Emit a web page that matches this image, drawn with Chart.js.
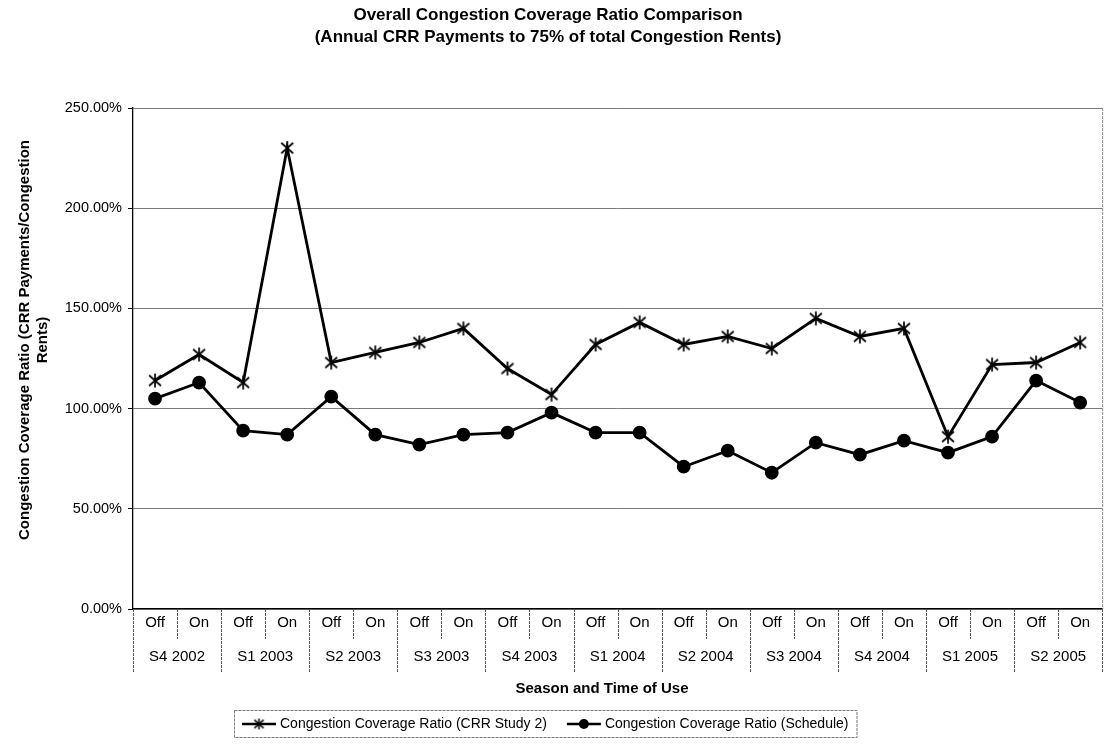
<!DOCTYPE html>
<html>
<head>
<meta charset="utf-8">
<script src="https://cdn.jsdelivr.net/npm/chart.js@4.4.1/dist/chart.umd.min.js"></script>
<style>
  html, body { margin: 0; padding: 0; background: #fff; }
  #wrap { width: 1113px; height: 747px; position: relative; }
</style>
</head>
<body>
<div id="wrap"><canvas id="chart" width="1113" height="747"></canvas></div>
<script>
// Seasons, each split into off-peak and on-peak periods
const seasons = ['S4 2002', 'S1 2003', 'S2 2003', 'S3 2003', 'S4 2003', 'S1 2004',
                 'S2 2004', 'S3 2004', 'S4 2004', 'S1 2005', 'S2 2005'];
const timeOfUse = ['Off', 'On'];
const categories = seasons.flatMap(() => timeOfUse);

// Congestion coverage ratio, percent
const crrStudy2 = [114, 127, 113, 230, 123, 128, 133, 140, 120, 107, 132,
                   143, 132, 136, 130, 145, 136, 140, 86, 122, 123, 133];
const schedule  = [105, 113, 89, 87, 106, 87, 82, 87, 88, 98, 88,
                   88, 71, 79, 68, 83, 77, 84, 78, 86, 114, 103];

const yTickMin = 0, yTickMax = 250, yTickStep = 50;

const titleLines = ['Overall Congestion Coverage Ratio Comparison',
                    '(Annual CRR Payments to 75% of total Congestion Rents)'];
const yTitleLines = ['Congestion Coverage Ratio (CRR Payments/Congestion', 'Rents)'];
const xTitle = 'Season and Time of Use';
const seriesNames = ['Congestion Coverage Ratio (CRR Study 2)', 'Congestion Coverage Ratio (Schedule)'];

const FONT = '"Liberation Sans", Arial, sans-serif';

// Asterisk-style marker: an X crossed by a vertical stroke
function asteriskMarker(size, lw) {
  const c = document.createElement('canvas');
  c.width = c.height = size;
  const g = c.getContext('2d');
  const m = size / 2, r = size / 2 - 1;
  g.strokeStyle = '#000';
  g.lineWidth = lw;
  g.lineCap = 'butt';
  g.beginPath();
  g.moveTo(m - r * 0.85, m - r * 0.75); g.lineTo(m + r * 0.85, m + r * 0.75);
  g.moveTo(m + r * 0.85, m - r * 0.75); g.lineTo(m - r * 0.85, m + r * 0.75);
  g.moveTo(m, m - r); g.lineTo(m, m + r);
  g.stroke();
  return c;
}
const starImg = asteriskMarker(16, 1.7);
const starImgSmall = asteriskMarker(13, 1.5);

// Title, axis titles, grouped category labels, frame and legend
const decorations = {
  id: 'decorations',
  afterDraw(chart) {
    const { ctx, chartArea: a, scales: { x } } = chart;
    ctx.save();

    // right edge of the plot frame
    ctx.strokeStyle = '#8a8a8a';
    ctx.lineWidth = 1;
    ctx.setLineDash([3, 1]);
    ctx.beginPath();
    ctx.moveTo(a.right + 0.5, a.top);
    ctx.lineTo(a.right + 0.5, a.bottom);
    ctx.stroke();
    ctx.setLineDash([]);

    // chart title
    ctx.fillStyle = '#000';
    ctx.textAlign = 'center';
    ctx.textBaseline = 'middle';
    ctx.font = 'bold 17px ' + FONT;
    const tcx = 548;
    ctx.fillText(titleLines[0], tcx, 15);
    ctx.fillText(titleLines[1], tcx, 37);

    // y axis title (rotated, two lines)
    ctx.save();
    ctx.translate(25, 340);
    ctx.rotate(-Math.PI / 2);
    ctx.font = 'bold 15px ' + FONT;
    ctx.fillText(yTitleLines[0], 0, 0);
    ctx.fillText(yTitleLines[1], 0, 18);
    ctx.restore();

    // category separators below the axis
    const step = x.getPixelForValue(1) - x.getPixelForValue(0);
    ctx.strokeStyle = '#555';
    ctx.lineWidth = 1;
    ctx.setLineDash([3, 1]);
    for (let i = 0; i <= categories.length; i++) {
      const px = Math.round(x.getPixelForValue(0) - step / 2 + i * step) + 0.5;
      const depth = (i % 2 === 0) ? 64 : 30;
      ctx.beginPath();
      ctx.moveTo(px, a.bottom);
      ctx.lineTo(px, a.bottom + depth);
      ctx.stroke();
    }
    ctx.setLineDash([]);

    // season labels
    ctx.font = '15px ' + FONT;
    ctx.fillStyle = '#000';
    seasons.forEach((s, k) => {
      const cx = (x.getPixelForValue(2 * k) + x.getPixelForValue(2 * k + 1)) / 2;
      ctx.fillText(s, cx, a.bottom + 48);
    });

    // x axis title
    ctx.font = 'bold 15px ' + FONT;
    ctx.fillText(xTitle, 602, a.bottom + 80);

    // legend
    const ds = chart.data.datasets;
    ctx.font = '14px ' + FONT;
    const sym = 34, gap = 4, itemGap = 20;
    const widths = ds.map(d => sym + gap + ctx.measureText(d.label).width);
    const total = widths[0] + itemGap + widths[1];
    const boxW = total + 16, boxH = 27;
    const boxL = Math.round(545 - boxW / 2), boxT = 710;
    ctx.strokeStyle = '#777';
    ctx.lineWidth = 1;
    ctx.setLineDash([3, 1]);
    ctx.strokeRect(boxL + 0.5, boxT + 0.5, boxW, boxH);
    ctx.setLineDash([]);
    let lx = boxL + 8;
    const ly = boxT + boxH / 2 + 0.5;
    ds.forEach((d, i) => {
      ctx.strokeStyle = '#000';
      ctx.lineWidth = 2.5;
      ctx.beginPath();
      ctx.moveTo(lx, ly);
      ctx.lineTo(lx + sym, ly);
      ctx.stroke();
      if (i === 0) {
        ctx.drawImage(starImgSmall, lx + sym / 2 - 6.5, ly - 6.5);
      } else {
        ctx.fillStyle = '#000';
        ctx.beginPath();
        ctx.arc(lx + sym / 2, ly, 5, 0, Math.PI * 2);
        ctx.fill();
      }
      ctx.fillStyle = '#000';
      ctx.textAlign = 'left';
      ctx.fillText(d.label, lx + sym + gap, ly);
      lx += widths[i] + itemGap;
    });

    ctx.restore();
  }
};

new Chart(document.getElementById('chart'), {
  type: 'line',
  data: {
    labels: categories,
    datasets: [
      {
        label: seriesNames[0],
        data: crrStudy2,
        borderColor: '#000',
        borderWidth: 2.8,
        pointStyle: starImg,
        pointRadius: 8,
        tension: 0
      },
      {
        label: seriesNames[1],
        data: schedule,
        borderColor: '#000',
        backgroundColor: '#000',
        borderWidth: 2.8,
        pointStyle: 'circle',
        pointRadius: 5.5,
        pointBackgroundColor: '#000',
        tension: 0
      }
    ]
  },
  options: {
    responsive: false,
    animation: false,
    devicePixelRatio: 1,
    layout: { padding: { top: 108, right: 3, left: 0, bottom: 0 } },
    plugins: {
      legend: { display: false },
      title: { display: false },
      tooltip: { enabled: false }
    },
    scales: {
      x: {
        type: 'category',
        offset: true,
        grid: { display: false, drawTicks: false },
        border: { display: true, color: '#000', width: 1.3 },
        ticks: {
          color: '#000',
          font: { family: FONT, size: 15 },
          padding: 5,
          maxRotation: 0,
          autoSkip: false
        },
        afterFit(scale) { scale.height = 138; }
      },
      y: {
        min: yTickMin,
        max: yTickMax,
        grid: {
          color: '#7a7a7a',
          lineWidth: 1,
          tickColor: '#000',
          tickLength: 5
        },
        border: { display: true, color: '#000', width: 1.3 },
        ticks: {
          stepSize: yTickStep,
          color: '#000',
          font: { family: FONT, size: 14.5 },
          padding: 6,
          callback: v => v.toFixed(2) + '%'
        },
        afterFit(scale) { scale.width = 133; }
      }
    }
  },
  plugins: [decorations]
});
</script>
</body>
</html>
